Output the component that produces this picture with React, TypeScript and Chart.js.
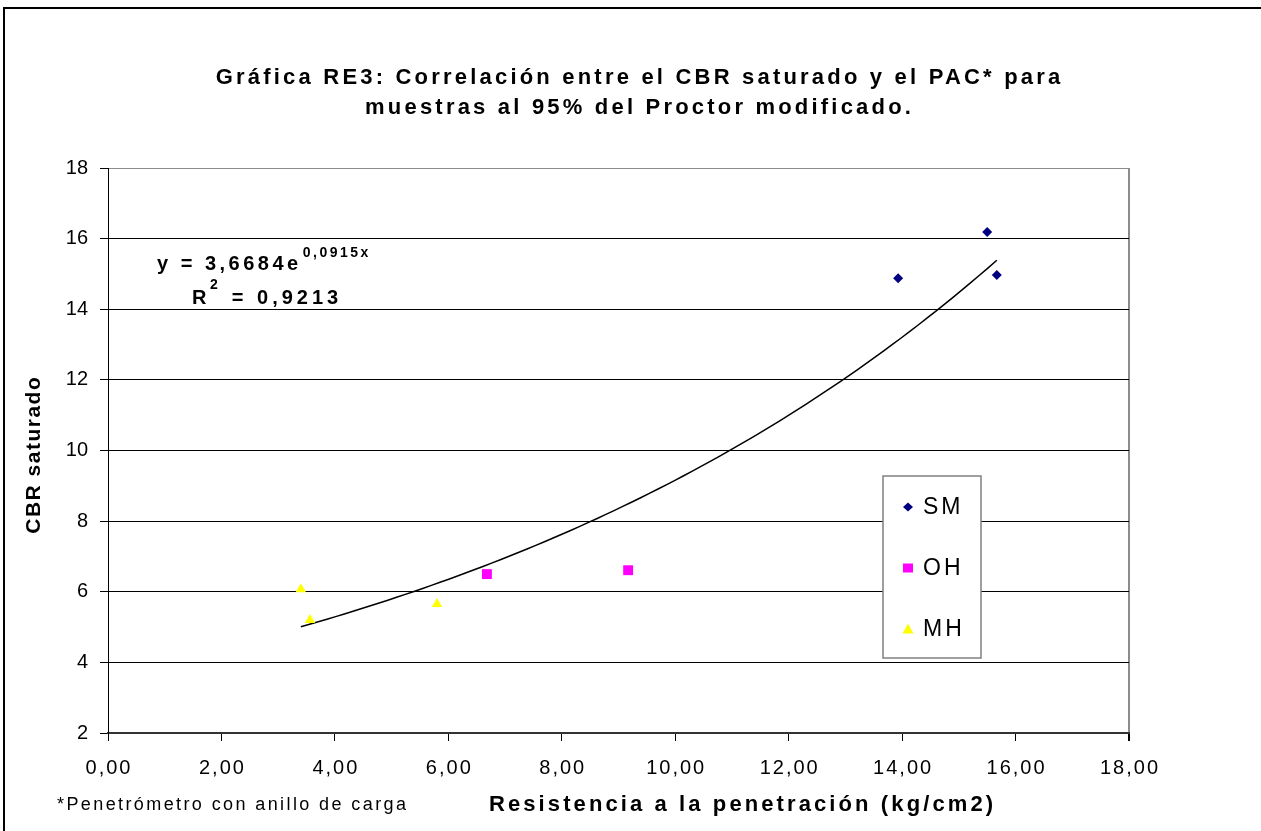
import { useEffect, useRef } from 'react';
import { Chart, registerables } from 'chart.js';

Chart.register(...registerables);

// Series: Resistencia a la penetración (kg/cm2) vs CBR saturado
const seriesNames = ['SM', 'OH', 'MH'];
const smX = [13.93, 15.5, 15.67];
const smY = [14.88, 16.19, 14.97];
const ohX = [6.68, 9.17];
const ohY = [6.5, 6.61];
const mhX = [3.4, 3.56, 5.8];
const mhY = [6.07, 5.2, 5.65];

// Exponential trendline y = a·e^(b·x)
const trendA = 3.6684;
const trendB = 0.0915;
const rSquared = 0.9213;

const titleLines = [
  'Gráfica RE3: Correlación entre el CBR saturado y el PAC* para',
  'muestras al 95% del Proctor modificado.',
];
const xTitle = 'Resistencia a la penetración (kg/cm2)';
const yTitle = 'CBR saturado';
const footnote = '*Penetrómetro con anillo de carga';

const FONT = "'Liberation Sans', Arial, Helvetica, sans-serif";
const NAVY = '#000080';
const MAGENTA = '#ff00ff';
const YELLOW = '#ffff00';

const comma = (n: number, digits?: number) =>
  (digits != null ? n.toFixed(digits) : String(n)).replace('.', ',');

function drawText(
  ctx: CanvasRenderingContext2D,
  text: string,
  x: number,
  y: number,
  font: string,
  opts: { align?: CanvasTextAlign; baseline?: CanvasTextBaseline; spacing?: number; color?: string } = {}
) {
  const spacing = opts.spacing || 0;
  ctx.save();
  ctx.font = font;
  ctx.fillStyle = opts.color || '#000';
  ctx.textAlign = opts.align || 'left';
  ctx.textBaseline = opts.baseline || 'alphabetic';
  (ctx as any).letterSpacing = `${spacing}px`;
  let dx = 0;
  if (opts.align === 'center') dx = spacing / 2;
  else if (opts.align === 'right') dx = spacing;
  ctx.fillText(text, x + dx, y);
  const w = ctx.measureText(text).width;
  ctx.restore();
  return w;
}

function drawMarker(ctx: CanvasRenderingContext2D, kind: string, x: number, y: number) {
  ctx.save();
  ctx.beginPath();
  if (kind === 'SM') {
    ctx.fillStyle = NAVY;
    ctx.moveTo(x, y - 4.5);
    ctx.lineTo(x + 5, y);
    ctx.lineTo(x, y + 4.5);
    ctx.lineTo(x - 5, y);
  } else if (kind === 'OH') {
    ctx.fillStyle = MAGENTA;
    ctx.rect(x - 5, y - 4.5, 10, 9);
  } else {
    ctx.fillStyle = YELLOW;
    ctx.moveTo(x, y - 5.5);
    ctx.lineTo(x + 5.5, y + 4.5);
    ctx.lineTo(x - 5.5, y + 4.5);
  }
  ctx.closePath();
  ctx.fill();
  ctx.restore();
}

const decorations = {
  id: 'decorations',
  afterDraw(chart: any) {
    const ctx: CanvasRenderingContext2D = chart.ctx;
    const xs = chart.scales.x;
    const ys = chart.scales.y;

    // outer frame
    ctx.save();
    ctx.strokeStyle = '#000';
    ctx.lineWidth = 2;
    ctx.strokeRect(4, 8, 1400, 1000);
    ctx.restore();

    // title
    titleLines.forEach((t, i) =>
      drawText(ctx, t, 638, 84 + i * 30, `bold 22px ${FONT}`, { align: 'center', spacing: 3.2 })
    );

    // x tick labels
    xs.ticks.forEach((t: any) =>
      drawText(ctx, comma(t.value, 2), xs.getPixelForValue(t.value), 768, `20px ${FONT}`, {
        align: 'center',
        baseline: 'middle',
        spacing: 2,
      })
    );

    // axis titles and note
    drawText(ctx, xTitle, 741, 811, `bold 22px ${FONT}`, { align: 'center', spacing: 3.1 });
    drawText(ctx, footnote, 57, 810, `18px ${FONT}`, { spacing: 2.4 });
    ctx.save();
    ctx.translate(34, (ys.top + ys.bottom) / 2 + 5);
    ctx.rotate(-Math.PI / 2);
    drawText(ctx, yTitle, 0, 0, `bold 21px ${FONT}`, { align: 'center', baseline: 'middle', spacing: 1.5 });
    ctx.restore();

    // trendline equation
    const eqFont = `bold 20px ${FONT}`;
    const supFont = `bold 14px ${FONT}`;
    let x = 157;
    x += drawText(ctx, `y = ${comma(trendA)}e`, x, 270, eqFont, { spacing: 3.5 });
    drawText(ctx, `${comma(trendB)}x`, x + 1, 257, supFont, { spacing: 2.5 });
    x = 192;
    x += drawText(ctx, 'R', x, 304, eqFont, { spacing: 3.5 });
    x += drawText(ctx, '2', x, 289, supFont, { spacing: 2.5 });
    drawText(ctx, ` = ${comma(rSquared)}`, x + 2, 304, eqFont, { spacing: 4 });

    // legend
    ctx.save();
    ctx.fillStyle = '#fff';
    ctx.strokeStyle = '#808080';
    ctx.lineWidth = 1.5;
    ctx.fillRect(883, 476, 98, 182);
    ctx.strokeRect(883, 476, 98, 182);
    ctx.restore();
    seriesNames.forEach((name, i) => {
      const cy = 507 + i * 61;
      drawMarker(ctx, name, 908, cy);
      drawText(ctx, name, 923, cy + 1, `23px ${FONT}`, { baseline: 'middle', spacing: 3 });
    });
  },
};

export default function App() {
  const ref = useRef<HTMLCanvasElement | null>(null);

  useEffect(() => {
    if (!ref.current) return;
    const allX = [...smX, ...ohX, ...mhX];
    const xMin = Math.min(...allX);
    const xMax = Math.max(...allX);
    const steps = 80;
    const trend = Array.from({ length: steps + 1 }, (_, i) => {
      const x = xMin + ((xMax - xMin) * i) / steps;
      return { x, y: trendA * Math.exp(trendB * x) };
    });
    const pts = (xs: number[], ys: number[]) => xs.map((x, i) => ({ x, y: ys[i] }));

    const chart = new Chart(ref.current, {
      type: 'scatter',
      data: {
        datasets: [
          {
            label: 'SM',
            data: pts(smX, smY),
            pointStyle: 'rectRot',
            pointRadius: 5,
            backgroundColor: NAVY,
            borderColor: NAVY,
            borderWidth: 0,
          },
          {
            label: 'OH',
            data: pts(ohX, ohY),
            pointStyle: 'rect',
            pointRadius: 7,
            backgroundColor: MAGENTA,
            borderColor: MAGENTA,
            borderWidth: 0,
          },
          {
            label: 'MH',
            data: pts(mhX, mhY),
            pointStyle: 'triangle',
            pointRadius: 6,
            backgroundColor: YELLOW,
            borderColor: YELLOW,
            borderWidth: 0,
          },
          {
            label: 'Exponencial',
            data: trend,
            showLine: true,
            pointRadius: 0,
            borderColor: '#000',
            borderWidth: 1.5,
            fill: false,
          } as any,
        ],
      },
      options: {
        responsive: false,
        animation: false,
        devicePixelRatio: 1,
        layout: { padding: { left: 0, top: 168, right: 132, bottom: 38 } },
        plugins: {
          legend: { display: false },
          tooltip: { enabled: false },
          title: { display: false },
        },
        scales: {
          x: {
            type: 'linear',
            min: 0,
            max: 18,
            ticks: { stepSize: 2, display: false },
            grid: {
              color: (c: any) => (c.tick && c.tick.value === 18 ? '#8c8c8c' : 'rgba(0,0,0,0)'),
              lineWidth: (c: any) => (c.tick && c.tick.value === 18 ? 2 : 1),
              tickColor: '#000',
              tickLength: 8,
            },
            border: { color: '#333', width: 2 },
            afterFit: (s: any) => {
              s.height = 60;
            },
          },
          y: {
            type: 'linear',
            min: 2,
            max: 18,
            ticks: {
              stepSize: 2,
              color: '#000',
              font: { family: FONT, size: 20 },
              padding: 12,
            },
            grid: {
              color: (c: any) => (c.tick && c.tick.value === 18 ? '#8c8c8c' : '#000'),
              tickColor: '#000',
              tickLength: 8,
            },
            border: { color: '#000', width: 1 },
            afterFit: (s: any) => {
              s.width = 108;
            },
          },
        },
      },
      plugins: [decorations],
    });
    return () => chart.destroy();
  }, []);

  return (
    <div style={{ position: 'absolute', left: 0, top: 0, width: 1261, height: 831, background: '#fff' }}>
      <canvas ref={ref} width={1261} height={831} style={{ display: 'block' }} />
    </div>
  );
}
